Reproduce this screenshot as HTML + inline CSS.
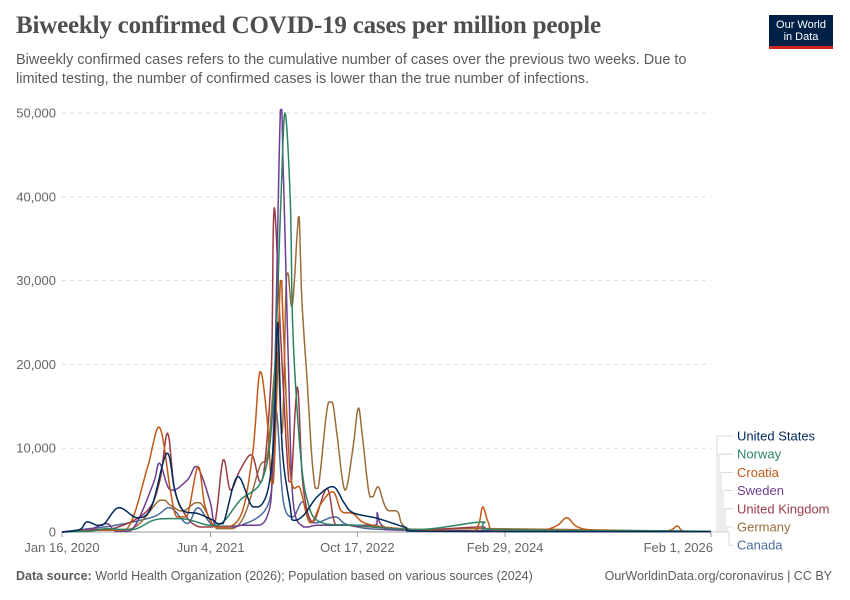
<!DOCTYPE html>
<html><head><meta charset="utf-8">
<style>
body{margin:0;background:#fff;width:850px;height:600px;overflow:hidden;font-family:"Liberation Sans",sans-serif;}
.t{position:absolute;left:16px;top:12px;font-family:"Liberation Serif",serif;font-weight:bold;font-size:25px;color:#4e4e4e;letter-spacing:-0.2px}
.s{position:absolute;left:16px;top:51px;width:700px;font-size:14.5px;line-height:19px;color:#5b5b5b}
.logo{position:absolute;left:769px;top:15px;width:64px;height:34px;background:#002147;color:#fff;font-size:11px;line-height:12px;text-align:center;padding-top:4px;box-sizing:border-box;border-bottom:3px solid #ce261e}
.f{position:absolute;top:569px;font-size:12.5px;color:#5b5b5b}
</style></head><body>
<div class="t">Biweekly confirmed COVID-19 cases per million people</div>
<div class="s">Biweekly confirmed cases refers to the cumulative number of cases over the previous two weeks. Due to limited testing, the number of confirmed cases is lower than the true number of infections.</div>
<div class="logo">Our World<br>in Data</div>
<svg id="c" width="850" height="600" style="position:absolute;left:0;top:0"></svg>
<div class="f" style="left:16px"><b>Data source:</b> World Health Organization (2026); Population based on various sources (2024)</div>
<div class="f" style="right:18px">OurWorldinData.org/coronavirus | CC BY</div>
<script>
// months since Jan 16, 2020 ; values in thousands
const yTicks=[0,10000,20000,30000,40000,50000];
const xTickLabels=["Jan 16, 2020","Jun 4, 2021","Oct 17, 2022","Feb 29, 2024","Feb 1, 2026"];
const xTickMonths=[0,16.6,33.0,49.5,72.5];
const names=["United States","Norway","Croatia","Sweden","United Kingdom","Germany","Canada"];
const colors=["#00295b","#2c8465","#c05917","#6d3e91","#9a3c45","#996d39","#4c6a9c"];
const usM=[0,2,2.8,4.5,6.3,8.4,10,11.7,12.6,13.5,15.2,16.9,18,19.6,21.3,22.9,23.7,24.1,24.6,25.5,25.8,27,28.5,30.3,31.5,32.5,35,36.5,38.5,40,72.5];
const usV=[0,0.3,1.2,0.8,2.9,1.7,3,9.4,5,2.6,2.2,1.4,1.0,6.6,3,4.6,12,25,10,3,1.4,2,4.2,5.4,3.5,2.3,1.7,1.2,0.5,0.1,0.05];
const noM=[0,3,5,8,10.2,12,14,16.5,18,19.9,22.5,23.6,24.4,24.9,25.5,25.8,26.6,27.4,28.8,33,40,47,48,72.5];
const noV=[0,0.1,0.4,0.3,1.4,1.6,1.5,0.8,1.2,3.8,6.6,15.7,38,50,39.6,23.7,9.8,3.8,1.2,0.8,0.3,1.2,0.3,0.1];
const hrM=[0,4,7.3,9.5,10.9,12.1,12.8,14,15.2,16,17.3,19.9,21.3,22.1,22.9,23.6,24.4,24.7,25.5,26.6,27.7,29,30.3,31.2,32.5,34,38,45.4,46.5,47,47.6,48.4,53,55.2,56.4,57.6,60,67.2,68.7,69.5,72.5];
const hrV=[0,0.2,0.4,7.5,12.5,5,1.8,2,7.8,3,0.6,1.8,9.4,19.1,13.7,5.8,30,25,7,5.2,1.1,3.5,4.8,2.5,2.2,1,0.4,0.1,0.8,3,1.2,0.2,0.1,0.7,1.7,0.6,0.2,0.1,0.7,0.1,0.05];
const seM=[0,3,5,6,8,10.2,10.9,12.1,14,15.1,16.5,17.3,20,22.9,23.6,24.4,24.7,25.3,25.8,27,28.5,35,35.2,36,40,72.5];
const seV=[0,0.3,1.0,0.1,0.5,5.8,8.2,5,6.2,7.8,3.8,0.6,0.8,1.8,11.6,50.4,43.6,19.7,3.8,0.6,0.8,0.8,2.3,0.6,0.2,0.05];
const ukM=[0,3,6,9.5,10.9,11.8,12.6,14,15.4,17,18,18.8,19.9,21.2,22.1,22.7,23.4,23.7,24.4,25.2,25.6,26.3,26.9,28,29.6,30.5,32,40,47,48,72.5];
const ukV=[0,0.3,0.5,2.5,6,11.8,5,1.7,0.6,0.8,8.6,5,7.4,9.2,6,8.6,20,38.7,24,8,6,17.3,5.8,1.2,5.2,1.0,0.8,0.3,0.6,0.1,0.05];
const deM=[0,4,8,10.9,12.1,13.5,15.4,17.3,20,22.1,23,24,24.6,25.1,25.7,26.3,26.5,26.8,27.4,28,28.6,29.6,30.2,30.7,31.6,32.5,33.1,33.6,34.4,35.3,35.9,36.4,37.5,38.1,40,47,72.5];
const deV=[0,0.3,0.5,3.8,3.2,2.5,3.5,0.4,1.2,7.8,9.5,21.4,11.8,30.9,26.9,36,37.6,27.7,17.8,7.8,5.2,14.6,15.5,11.8,5,10,14.8,11,4.2,5.4,3.6,2.6,2.4,0.8,0.2,0.4,0.05];
const caM=[0,3,6,10.2,12.1,14,15.2,17,20,23.2,23.9,24.7,25.8,26.9,28,30.5,32.5,40,72.5];
const caV=[0,0.4,0.8,1.8,2.9,1.0,2.9,0.7,0.8,3.8,14.6,3.8,1.8,3.6,1.1,1.8,0.7,0.2,0.05];
const series=[[usM,usV],[noM,noV],[hrM,hrV],[seM,seV],[ukM,ukV],[deM,deV],[caM,caV]];

const X0=62,X1=711,Y0=532,Y1=113,MMAX=72.5,VMAX=50000;
const xs=m=>X0+m/MMAX*(X1-X0);
const ys=v=>Y0-v/VMAX*(Y0-Y1);
const svg=document.getElementById('c');
const NS="http://www.w3.org/2000/svg";
function mk(tag,attrs){const e=document.createElementNS(NS,tag);for(const k in attrs)e.setAttribute(k,attrs[k]);svg.appendChild(e);return e;}
yTicks.forEach((v,i)=>{
  if(v>0){const g=mk('line',{x1:X0,x2:X1,y1:ys(v),y2:ys(v),stroke:'#ddd','stroke-dasharray':'4,4'});
  
  }
  const t=mk('text',{x:56,y:ys(v)+4.5,'text-anchor':'end','font-size':13,fill:'#666','font-family':'Liberation Sans, sans-serif'});
  t.textContent=v.toLocaleString('en-US');
  
  
});
const base=mk('line',{x1:X0,x2:X1,y1:Y0,y2:Y0,stroke:'#999'});


xTickLabels.forEach((l,i)=>{
  const x=xs(xTickMonths[i]);
  mk('line',{x1:x,x2:x,y1:Y0,y2:Y0+5,stroke:'#999'});
  const t=mk('text',{x:x,y:552,'text-anchor':i==4?'end':'middle','font-size':13,fill:'#666','font-family':'Liberation Sans, sans-serif'});
  if(i==4)t.setAttribute('x',x+2);
  t.textContent=l;
  
  
});
function smooth(P){
  let d='M'+P[0][0].toFixed(1)+','+P[0][1].toFixed(1);
  for(let i=0;i<P.length-1;i++){
    const p0=P[Math.max(i-1,0)],p1=P[i],p2=P[i+1],p3=P[Math.min(i+2,P.length-1)];
    const lo=Math.min(p1[1],p2[1]),hi=Math.max(p1[1],p2[1]);
    for(let k=1;k<=8;k++){
      const t=k/8,t2=t*t,t3=t2*t;
      const f=(a,b,c,e)=>0.5*((2*b)+(-a+c)*t+(2*a-5*b+4*c-e)*t2+(-a+3*b-3*c+e)*t3);
      let x=f(p0[0],p1[0],p2[0],p3[0]);
      let y=Math.max(lo,Math.min(hi,f(p0[1],p1[1],p2[1],p3[1])));
      x=Math.max(p1[0],Math.min(p2[0],x));
      d+='L'+x.toFixed(1)+','+y.toFixed(1);
    }
  }
  return d;
}
for(let s=series.length-1;s>=0;s--){
  const [M,V]=series[s];
  const P=M.map((m,i)=>[xs(m),ys(V[i]*1000)]);
  const p=mk('path',{d:smooth(P),fill:'none',stroke:colors[s],'stroke-width':1.5,'stroke-linejoin':'round'});
  
  
}
names.forEach((n,i)=>{
  const ly=436+i*18.2;
  const bx=717+i*2;
  mk('path',{d:`M${X1},${Y0} H${bx} V${ly} H${733}`,fill:'none',stroke:'#d0d0d0','stroke-width':0.8});
  const t=mk('text',{x:737,y:ly+4.5,'font-size':13,fill:colors[i],'font-family':'Liberation Sans, sans-serif'});
  t.textContent=n;
  
  
});
</script>
</body></html>
